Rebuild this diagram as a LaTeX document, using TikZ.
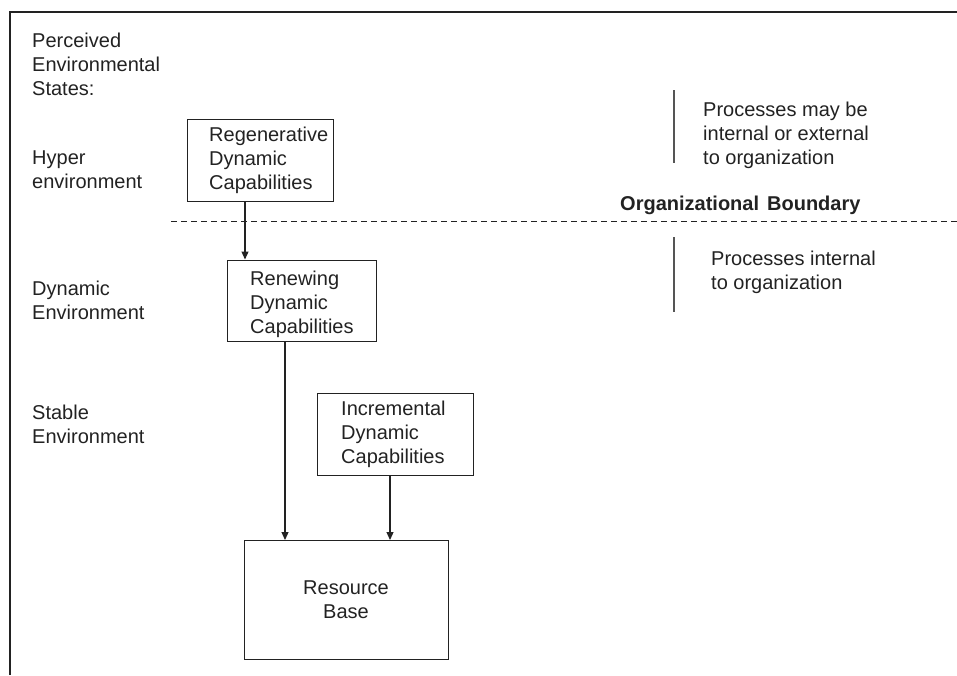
\documentclass[tikz,border=0pt]{standalone}
\usepackage{fontspec}
\setmainfont{Liberation Sans}
\usetikzlibrary{arrows.meta}
\definecolor{ink}{HTML}{222222}
\definecolor{barcol}{HTML}{555555}
% invisible rule fixing the height of a first line above its baseline
\newcommand\lnstrut{\rule{0pt}{16pt}}
\begin{document}
\begin{tikzpicture}[x=1pt,y=-1pt,
  every node/.style={inner sep=0pt, text=ink},
  lbl/.style={font=\fontsize{20}{24}\selectfont, align=left, anchor=north west},
  capbox/.style={draw=ink, line width=1.4pt, rectangle, anchor=north west},
  arr/.style={draw=ink, line width=1.2pt, -{Triangle[length=8pt,width=7pt]}},
  bar/.style={draw=barcol, line width=1.3pt},
  frame/.style={draw=ink, line width=2pt, line join=miter}]
\useasboundingbox (0,0) rectangle (957,675);

% outer frame (top and left sides only)
\draw[frame] (10,675) -- (10,12) -- (957,12);

% environmental states on the left
\node[lbl] (states) at (32,31) {\lnstrut Perceived\\Environmental\\States:};
\node[lbl] (hyper) at (32,148) {\lnstrut Hyper\\environment};
\node[lbl] (dynenv) at (32,279) {\lnstrut Dynamic\\Environment};
\node[lbl] (stable) at (32,403) {\lnstrut Stable\\Environment};

% capability boxes
\node[capbox, minimum width=146pt, minimum height=82pt] (regen) at (187,119) {};
\node[lbl] (regentxt) at (209,125) {\lnstrut Regenerative\\Dynamic\\Capabilities};

\node[capbox, minimum width=148.5pt, minimum height=81pt] (renew) at (227,259.5) {};
\node[lbl] (renewtxt) at (250,269) {\lnstrut Renewing\\Dynamic\\Capabilities};

\node[capbox, minimum width=155.5pt, minimum height=82pt] (incr) at (317,392.5) {};
\node[lbl] (incrtxt) at (341,399) {\lnstrut Incremental\\Dynamic\\Capabilities};

\node[capbox, minimum width=204pt, minimum height=119pt] (res) at (244,540) {};
\node[lbl, align=center, anchor=north] (restxt) at (346,578) {\lnstrut Resource\\Base};

% connectors
\coordinate (ax1) at (245,0);
\coordinate (ax2) at (285,0);
\coordinate (ax3) at (390,0);
\draw[arr] (regen.south -| ax1) -- (renew.north -| ax1);
\draw[arr] (renew.south -| ax2) -- (res.north -| ax2);
\draw[arr] (incr.south -| ax3) -- (res.north -| ax3);

% organizational boundary
\draw[draw=ink, line width=1pt, dash pattern=on 6pt off 4pt] (171,221) -- (957,221);
\node[font=\bfseries\fontsize{20}{24}\selectfont, anchor=base west] (orgb) at (620,210)
  {Organizational\hspace{8pt}Boundary};

% process notes on the right
\draw[bar] (674,90) -- (674,163);
\node[lbl] (extnote) at (703,100) {\lnstrut Processes may be\\internal or external\\to organization};
\draw[bar] (674,237) -- (674,312);
\node[lbl] (intnote) at (711,249) {\lnstrut Processes internal\\to organization};
\end{tikzpicture}
\end{document}
